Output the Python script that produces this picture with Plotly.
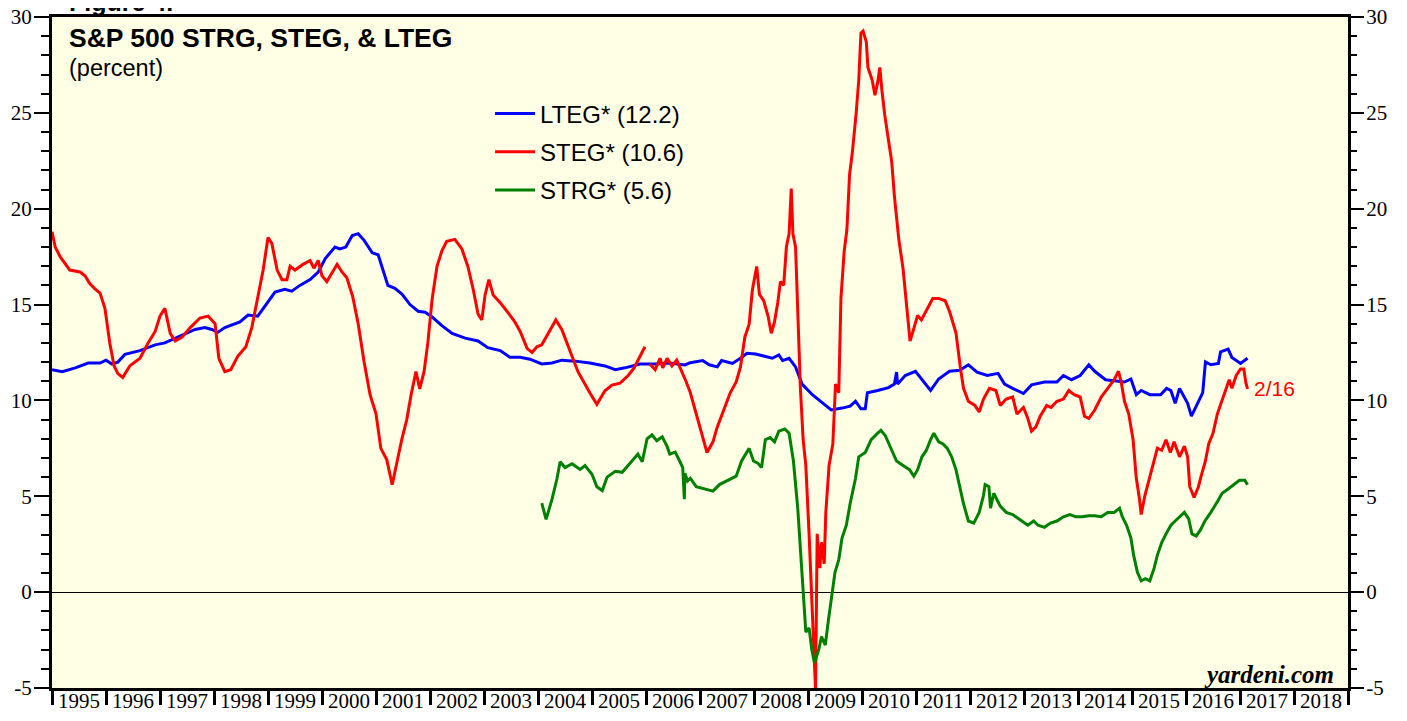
import plotly.graph_objects as go

# ---------------- data (decimal years, percent) ----------------
lteg_years = [1995.00, 1995.19, 1995.43, 1995.67, 1995.89, 1996.00, 1996.11, 1996.22, 1996.35, 1996.63,
              1996.91, 1997.09, 1997.37, 1997.65, 1997.83, 1997.96, 1998.07, 1998.20, 1998.48, 1998.63,
              1998.81, 1998.94, 1999.13, 1999.31, 1999.44, 1999.59, 1999.78, 1999.93, 2000.06, 2000.24,
              2000.33, 2000.44, 2000.56, 2000.67, 2000.78, 2000.93, 2001.04, 2001.22, 2001.35, 2001.48,
              2001.63, 2001.78, 2001.91, 2002.04, 2002.22, 2002.41, 2002.65, 2002.89, 2003.07, 2003.30,
              2003.48, 2003.67, 2003.85, 2004.07, 2004.26, 2004.44, 2004.69, 2004.96, 2005.24, 2005.43,
              2005.61, 2005.89, 2006.17, 2006.44, 2006.72,
              2006.82, 2007.05, 2007.17, 2007.32, 2007.40, 2007.60, 2007.75, 2007.87, 2008.03, 2008.18,
              2008.34, 2008.46, 2008.53, 2008.65, 2008.77, 2008.89, 2009.08, 2009.28, 2009.43, 2009.63,
              2009.78, 2009.88, 2009.98, 2010.06, 2010.10, 2010.29, 2010.49, 2010.60, 2010.64, 2010.66,
              2010.80, 2010.99, 2011.11, 2011.27, 2011.42, 2011.62, 2011.81, 2011.97, 2012.13, 2012.32,
              2012.52, 2012.64, 2012.79, 2012.99, 2013.14, 2013.38, 2013.61, 2013.73, 2013.88, 2014.04,
              2014.20, 2014.31, 2014.51, 2014.71, 2014.86, 2014.98, 2015.08, 2015.17, 2015.33, 2015.53,
              2015.64, 2015.72, 2015.80, 2015.88, 2015.96, 2016.03, 2016.10, 2016.19, 2016.31, 2016.36,
              2016.46, 2016.60, 2016.64, 2016.78, 2016.85, 2017.01, 2017.14]
lteg_values = [11.6, 11.5, 11.7, 11.95, 11.95, 12.1, 11.9, 12.0, 12.4, 12.6,
               12.9, 13.0, 13.35, 13.7, 13.8, 13.7, 13.55, 13.8, 14.1, 14.45,
               14.4, 14.9, 15.65, 15.8, 15.7, 16.0, 16.3, 16.7, 17.4, 18.0,
               17.9, 18.0, 18.6, 18.7, 18.35, 17.7, 17.6, 16.0, 15.85, 15.55,
               15.0, 14.65, 14.6, 14.35, 13.9, 13.5, 13.25, 13.1, 12.75, 12.6,
               12.25, 12.25, 12.15, 11.9, 11.95, 12.1, 12.05, 11.95, 11.8, 11.6,
               11.7, 11.9, 11.9, 11.95, 11.85,
               11.97, 12.08, 11.86, 11.75, 12.08, 11.93, 12.2, 12.46, 12.42, 12.3,
               12.2, 12.37, 12.08, 12.2, 11.75, 10.85, 10.3, 9.85, 9.5, 9.6,
               9.7, 9.96, 9.56, 9.56, 10.4, 10.52, 10.67, 10.85, 11.48, 10.85,
               11.3, 11.52, 11.08, 10.52, 11.12, 11.52, 11.57, 11.86, 11.48, 11.3,
               11.41, 10.85, 10.63, 10.36, 10.81, 10.96, 10.96, 11.3, 11.08, 11.3,
               11.86, 11.52, 11.08, 11.03, 10.96, 11.12, 10.3, 10.52, 10.3, 10.3,
               10.63, 10.52, 9.85, 10.63, 10.18, 9.85, 9.18, 9.74, 10.41, 12.01,
               11.86, 11.93, 12.53, 12.68, 12.24, 11.93, 12.2]

steg_years = [1995.00, 1995.06, 1995.15, 1995.33, 1995.52, 1995.61, 1995.70, 1995.80, 1995.89, 1995.98,
              1996.07, 1996.15, 1996.22, 1996.31, 1996.44, 1996.63, 1996.78, 1996.91, 1997.00, 1997.09,
              1997.19, 1997.28, 1997.41, 1997.56, 1997.74, 1997.89, 1998.02, 1998.09, 1998.20, 1998.31,
              1998.44, 1998.59, 1998.70, 1998.81, 1998.91, 1999.00, 1999.07, 1999.17, 1999.26, 1999.35,
              1999.41, 1999.50, 1999.65, 1999.78, 1999.85, 1999.93, 2000.00, 2000.09, 2000.19, 2000.28,
              2000.37, 2000.46, 2000.57, 2000.67, 2000.78, 2000.89, 2001.00, 2001.09, 2001.20, 2001.30,
              2001.39, 2001.48, 2001.57, 2001.65, 2001.74, 2001.81, 2001.89, 2001.96, 2002.04, 2002.13,
              2002.22, 2002.31, 2002.46, 2002.59, 2002.70, 2002.80, 2002.89, 2002.96, 2003.02, 2003.09,
              2003.17, 2003.30, 2003.44, 2003.57, 2003.67, 2003.80, 2003.89, 2003.98, 2004.07, 2004.19,
              2004.33, 2004.44, 2004.59, 2004.74, 2004.96, 2005.09, 2005.24, 2005.37, 2005.52, 2005.67,
              2005.78, 2005.89, 2005.98, 2006.02, 2006.07, 2006.17, 2006.26, 2006.31, 2006.39, 2006.48,
              2006.57, 2006.67, 2006.74,
              2006.82, 2006.93, 2007.05, 2007.13, 2007.24, 2007.32, 2007.44, 2007.56, 2007.67, 2007.75,
              2007.83, 2007.91, 2007.97, 2008.05, 2008.10, 2008.18, 2008.26, 2008.32, 2008.38, 2008.44,
              2008.49, 2008.55, 2008.60, 2008.65, 2008.69, 2008.72, 2008.77, 2008.81, 2008.86, 2008.91,
              2008.96, 2009.02, 2009.07, 2009.10, 2009.14, 2009.17, 2009.22, 2009.25, 2009.30, 2009.33,
              2009.39, 2009.46, 2009.51, 2009.57, 2009.61, 2009.67, 2009.72, 2009.77, 2009.82, 2009.89,
              2009.94, 2009.98, 2010.02, 2010.08, 2010.11, 2010.19, 2010.24, 2010.29, 2010.33, 2010.37,
              2010.42, 2010.49, 2010.55, 2010.60, 2010.68, 2010.76, 2010.84, 2010.89, 2010.96, 2011.03,
              2011.10, 2011.19, 2011.31, 2011.42, 2011.54, 2011.62, 2011.74, 2011.82, 2011.88, 2011.97,
              2012.09, 2012.17, 2012.25, 2012.36, 2012.48, 2012.56, 2012.67, 2012.79, 2012.87, 2012.99,
              2013.07, 2013.14, 2013.22, 2013.30, 2013.42, 2013.50, 2013.61, 2013.73, 2013.83, 2013.93,
              2014.04, 2014.12, 2014.20, 2014.31, 2014.43, 2014.55, 2014.67, 2014.75, 2014.80, 2014.86,
              2014.94, 2015.02, 2015.08, 2015.14, 2015.17, 2015.24, 2015.32, 2015.41, 2015.47, 2015.55,
              2015.63, 2015.71, 2015.78, 2015.88, 2015.97, 2016.03, 2016.07, 2016.15, 2016.23, 2016.28,
              2016.36, 2016.42, 2016.50, 2016.58, 2016.66, 2016.72, 2016.80, 2016.85, 2016.93, 2017.01,
              2017.07, 2017.11, 2017.14]
steg_values = [18.8, 18.0, 17.5, 16.8, 16.7, 16.5, 16.1, 15.8, 15.6, 14.8,
               13.0, 11.8, 11.4, 11.2, 11.8, 12.2, 13.0, 13.6, 14.4, 14.8,
               13.5, 13.1, 13.3, 13.8, 14.3, 14.4, 14.0, 12.2, 11.5, 11.6,
               12.3, 12.8, 13.8, 15.3, 16.8, 18.5, 18.2, 16.8, 16.3, 16.3,
               17.0, 16.8, 17.1, 17.3, 16.9, 17.3, 16.5, 16.2, 16.7, 17.1,
               16.7, 16.4, 15.4, 14.0, 12.0, 10.3, 9.3, 7.5, 6.9, 5.6,
               6.8, 8.0, 9.0, 10.3, 11.5, 10.6, 11.5, 13.0, 15.3, 17.0,
               17.8, 18.3, 18.4, 17.9, 17.0, 15.8, 14.5, 14.2, 15.5, 16.3,
               15.5, 15.1, 14.6, 14.1, 13.6, 12.7, 12.5, 12.8, 12.9, 13.5,
               14.2, 13.7, 12.6, 11.5, 10.4, 9.8, 10.5, 10.8, 10.9, 11.3,
               11.7, 12.3, 12.8, None, 11.9, 11.6, 12.2, 11.7, 12.2, 11.8,
               12.1, 11.5, 11.0,
               10.41, 9.3, 7.95, 7.28, 7.84, 8.62, 9.5, 10.4, 10.96, 11.75,
               13.3, 13.98, 15.76, 16.99, 15.54, 15.2, 14.4, 13.5, 14.1, 15.1,
               16.2, 16.0, 18.0, 18.7, 21.05, 18.7, 18.0, 14.4, 10.6, 7.95,
               6.6, 3.04, -0.08, -2.76, -5.1, 3.04, 1.25, 2.6, 1.48, 4.16,
               6.6, 7.73, 10.85, 10.4, 15.32, 17.77, 18.89, 21.79, 22.9, 24.92,
               26.7, 29.16, 29.27, 28.7, 27.37, 26.7, 25.92, 26.59, 27.37, 26.14,
               24.92, 23.58, 22.46, 20.67, 18.44, 16.88, 14.65, 13.09, 13.76, 14.43,
               14.2, 14.65, 15.32, 15.32, 15.2, 14.65, 13.53, 11.75, 10.63, 9.96,
               9.74, 9.4, 10.07, 10.63, 10.52, 9.74, 10.07, 10.18, 9.29, 9.63,
               9.07, 8.4, 8.62, 9.18, 9.74, 9.63, 9.96, 10.07, 10.52, 10.3,
               10.18, 9.18, 9.07, 9.5, 10.18, 10.63, 11.08, 11.52, 10.96, 9.96,
               9.29, 7.95, 5.94, 4.83, 4.05, 5.05, 5.94, 6.84, 7.51, 7.4,
               7.95, 7.28, 7.84, 7.06, 7.62, 7.06, 5.5, 4.94, 5.5, 6.05,
               6.84, 7.73, 8.29, 9.29, 9.96, 10.41, 11.08, 10.63, 11.3, 11.64,
               11.64, 10.9, 10.6]

strg_years = [2004.07, 2004.15, 2004.26, 2004.35, 2004.41, 2004.50, 2004.63, 2004.78, 2004.87, 2005.00,
              2005.09, 2005.19, 2005.28, 2005.43, 2005.56, 2005.70, 2005.85, 2005.93, 2006.02, 2006.11,
              2006.20, 2006.30, 2006.39, 2006.44, 2006.54, 2006.63, 2006.68, 2006.71, 2006.72, 2006.77,
              2006.82, 2006.93, 2007.09, 2007.24, 2007.36, 2007.52, 2007.67, 2007.77, 2007.86, 2007.91,
              2007.99, 2008.07, 2008.14, 2008.21, 2008.30, 2008.38, 2008.46, 2008.57, 2008.65, 2008.73,
              2008.81, 2008.86, 2008.91, 2008.96, 2009.02, 2009.07, 2009.12, 2009.20, 2009.25, 2009.32,
              2009.38, 2009.43, 2009.50, 2009.57, 2009.63, 2009.71, 2009.78, 2009.88, 2009.94, 2010.06,
              2010.17, 2010.29, 2010.35, 2010.43, 2010.53, 2010.64, 2010.76, 2010.88, 2010.96, 2011.03,
              2011.11, 2011.19, 2011.27, 2011.33, 2011.42, 2011.50, 2011.58, 2011.66, 2011.74, 2011.82,
              2011.88, 2011.97, 2012.07, 2012.17, 2012.25, 2012.28, 2012.35, 2012.38, 2012.44, 2012.56,
              2012.67, 2012.79, 2012.91, 2013.07, 2013.18, 2013.26, 2013.38, 2013.49, 2013.61, 2013.73,
              2013.85, 2013.96, 2014.08, 2014.20, 2014.31, 2014.43, 2014.55, 2014.67, 2014.77, 2014.82,
              2014.90, 2014.98, 2015.03, 2015.10, 2015.17, 2015.25, 2015.33, 2015.41, 2015.47, 2015.55,
              2015.63, 2015.72, 2015.80, 2015.88, 2015.97, 2016.05, 2016.11, 2016.19, 2016.27, 2016.35,
              2016.46, 2016.58, 2016.67, 2016.78, 2016.89, 2016.99, 2017.09, 2017.14]
strg_values = [4.64, 3.8, 4.85, 5.9, 6.8, 6.5, 6.7, 6.4, 6.6, 6.15,
               5.5, 5.3, 6.0, 6.3, 6.25, 6.7, 7.2, 6.8, 8.0, 8.2,
               7.9, 8.1, 7.6, 7.2, 7.3, 6.8, 6.5, 4.85, 6.2, 5.8,
               5.94, 5.5, 5.38, 5.27, 5.61, 5.83, 6.05, 6.84, 7.28, 7.5,
               6.84, 6.73, 6.5, 7.95, 8.06, 7.84, 8.4, 8.51, 8.29, 6.84,
               4.38, 2.15, -0.08, -2.09, -1.87, -2.99, -3.7, -2.99, -2.32, -2.76,
               -1.42, -0.31, 1.03, 1.7, 2.82, 3.49, 4.61, 5.94, 7.06, 7.28,
               7.95, 8.29, 8.44, 8.17, 7.5, 6.84, 6.61, 6.39, 6.05, 6.39,
               7.06, 7.39, 7.95, 8.29, 7.84, 7.73, 7.5, 7.06, 6.39, 5.27,
               4.61, 3.71, 3.6, 4.16, 5.05, 5.61, 5.5, 4.38, 5.16, 4.49,
               4.16, 4.05, 3.82, 3.49, 3.71, 3.49, 3.38, 3.6, 3.71, 3.93,
               4.05, 3.93, 3.93, 3.98, 3.98, 3.93, 4.16, 4.16, 4.38, 3.93,
               3.49, 2.82, 1.93, 1.03, 0.59, 0.7, 0.59, 1.25, 1.93, 2.59,
               3.04, 3.49, 3.71, 3.93, 4.16, 3.82, 3.04, 2.93, 3.26, 3.71,
               4.16, 4.72, 5.16, 5.38, 5.61, 5.83, 5.83, 5.6]

series_names = ["LTEG* (12.2)", "STEG* (10.6)", "STRG* (5.6)"]
series_colors = ["#0000FF", "#FF0000", "#008000"]
year_ticks = list(range(1995, 2019))
year_labels = [str(y) for y in year_ticks]
value_ticks = [-5, 0, 5, 10, 15, 20, 25, 30]
value_labels = ["-5", "0", "5", "10", "15", "20", "25", "30"]
last_date_label = "2/16"

SANS = "Liberation Sans, Arial, Helvetica, sans-serif"
SERIF = "Liberation Serif, Times New Roman, serif"

fig = go.Figure()
for i, (xs, ys, name, color) in enumerate(zip([lteg_years, steg_years, strg_years],
                                              [lteg_values, steg_values, strg_values],
                                              series_names, series_colors)):
    fig.add_trace(go.Scatter(x=xs, y=ys, mode="lines", name=name, legendgroup="g%d" % i,
                             line=dict(color=color, width=3), connectgaps=False))

# invisible trace to activate the right-hand mirror axis
fig.add_trace(go.Scatter(x=[lteg_years[0]], y=[lteg_values[0]], yaxis="y2", mode="lines",
                         showlegend=False, hoverinfo="skip", opacity=0))

yaxis_common = dict(
    range=[-5, 30], tickmode="array", tickvals=value_ticks, ticktext=value_labels,
    ticks="outside", ticklen=15, tickwidth=2,
    tickcolor="black", showgrid=False, automargin=False, ticklabeloverflow="allow",
    tickfont=dict(family=SERIF, size=21, color="black"), ticklabelstandoff=-2,
    minor=dict(dtick=1, tick0=0, ticks="outside", ticklen=8, tickwidth=2,
               tickcolor="black", showgrid=False),
)

# the page places the figure 8px from the top-left corner of the window
fig.update_layout(
    width=1399, height=713,
    margin=dict(l=44, r=59, t=9, b=33),
    paper_bgcolor="white", plot_bgcolor="#FFFFE5",
    showlegend=True,
    legend=dict(x=0.338, y=0.889, xanchor="left", yanchor="top", tracegroupgap=4,
                bgcolor="rgba(0,0,0,0)", font=dict(family=SANS, size=24, color="black"),
                itemwidth=40),
    xaxis=dict(range=[1995, 2019], tickvals=[y + 0.5 for y in year_ticks], ticktext=year_labels,
               ticks="", showgrid=False, zeroline=False, showline=True, linewidth=3,
               linecolor="black", mirror=True, automargin=False, ticklabelstandoff=-8,
               ticklabeloverflow="allow",
               tickfont=dict(family=SERIF, size=21, color="black"),
               minor=dict(tick0=1995, dtick=1, ticks="outside", ticklen=14, tickwidth=3,
                          tickcolor="black", showgrid=False)),
    yaxis=dict(**yaxis_common, zeroline=True, zerolinecolor="black", zerolinewidth=1,
               showline=True, linewidth=3, linecolor="black", mirror=True),
    yaxis2=dict(**yaxis_common, overlaying="y", side="right", zeroline=False, showline=False),
)

fig.add_annotation(text="<b>Figure 4.</b>", xref="paper", yref="paper", x=0.0116, y=1,
                   xanchor="left", yanchor="bottom", yshift=-1, showarrow=False,
                   font=dict(family=SANS, size=25, color="black"))
fig.add_annotation(text="<b>S&P 500 STRG, STEG, & LTEG</b>", xref="paper", yref="paper",
                   x=0.0116, y=0.9687, xanchor="left", yanchor="middle", showarrow=False,
                   font=dict(family=SANS, size=26.5, color="black"))
fig.add_annotation(text="(percent)", xref="paper", yref="paper", x=0.0116, y=0.924,
                   xanchor="left", yanchor="middle", showarrow=False,
                   font=dict(family=SANS, size=23.5, color="black"))
fig.add_annotation(text=last_date_label, x=steg_years[-1], y=steg_values[-1], xref="x", yref="y",
                   xanchor="left", yanchor="middle", xshift=4, showarrow=False,
                   font=dict(family=SANS, size=21, color="#FF0000"))
fig.add_annotation(text="<b><i>yardeni.com</i></b>", xref="paper", yref="paper", x=1, y=0,
                   xanchor="right", yanchor="bottom", xshift=-12, yshift=-2, showarrow=False,
                   font=dict(family=SERIF, size=25, color="black"))

fig.write_html("out.html")
